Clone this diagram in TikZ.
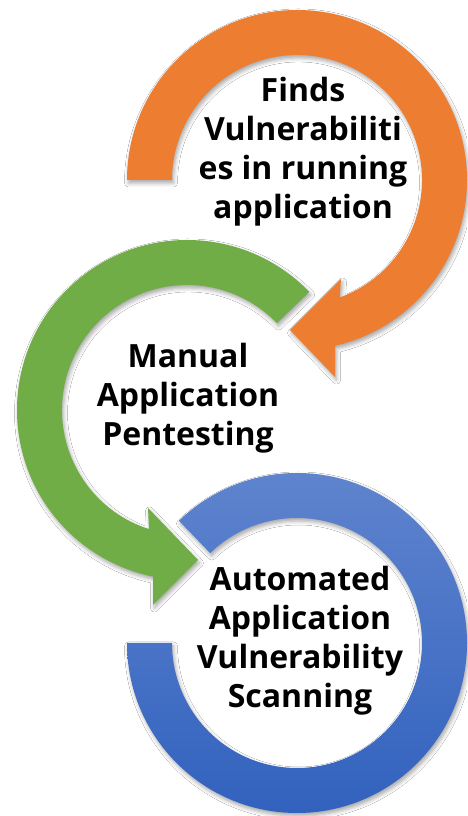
\documentclass[tikz,border=0pt]{standalone}
\usepackage{fontspec}
\setmainfont{Open Sans}
\usetikzlibrary{shadows.blur}
\definecolor{ringorange}{RGB}{237,125,49}
\definecolor{ringgreen}{RGB}{112,173,71}
\definecolor{ringbluetop}{RGB}{95,132,206}
\definecolor{ringbluebot}{RGB}{50,98,190}
\begin{document}
\begin{tikzpicture}[x=1pt,y=1pt,
  ringshadow/.style={blur shadow={shadow xshift=1.5pt,shadow yshift=-3pt,shadow blur radius=4pt,shadow opacity=35}},
  ringlabel/.style={align=center,font=\fontsize{32}{39}\selectfont\bfseries,inner sep=0pt}]
\useasboundingbox[fill=white] (0,0) rectangle (467,816);
% blue ring
\path[ringshadow, top color=ringbluetop, bottom color=ringbluebot]
  (127,173) arc[start angle=180,end angle=494,radius=170]
  -- ([shift={(297,173)}]494:125) arc[start angle=494,end angle=180,radius=125] -- cycle;
% green arrow
\path[ringshadow, fill=ringgreen]
  ([shift={(187,406)}]44:170) arc[start angle=44,end angle=258.5,radius=170]
  -- (153,211) -- (198,256) -- (148,308)
  -- ([shift={(187,406)}]252.3:125) arc[start angle=252.3,end angle=44,radius=125] -- cycle;
% orange arrow
\path[ringshadow, fill=ringorange]
  (127,636) arc[start angle=180,end angle=-77,radius=170]
  -- (335,439) -- (290,486) -- (341,537)
  -- ([shift={(297,636)}]-70:125) arc[start angle=-70,end angle=180,radius=125] -- cycle;
% labels
\node[ringlabel] (finds) at (303,664) {Finds\\Vulnerabiliti\\es in running\\application};
\node[ringlabel] (manual) at (188,418) {Manual\\Application\\Pentesting};
\node[ringlabel] (auto) at (300,175) {Automated\\Application\\Vulnerability\\Scanning};
\end{tikzpicture}
\end{document}
